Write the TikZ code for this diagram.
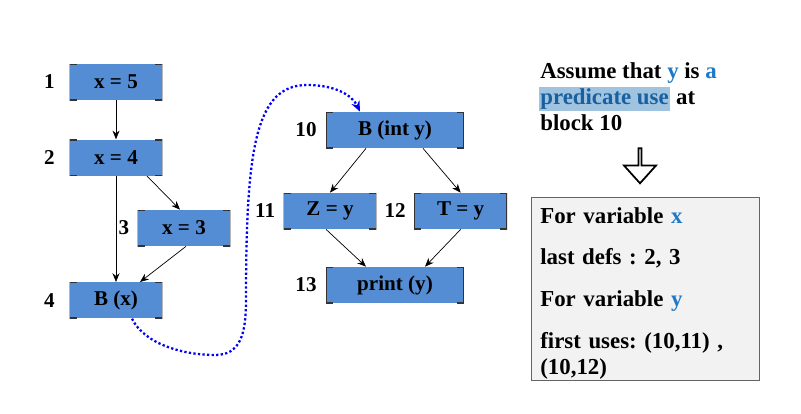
\documentclass[tikz,border=0pt]{standalone}
\usepackage{fontspec}
\setmainfont{Liberation Serif}
\usetikzlibrary{arrows.meta,positioning,shapes.arrows}
\definecolor{cfgblue}{RGB}{84,141,212}
\definecolor{hlblue}{RGB}{160,196,224}
\definecolor{txtblue}{RGB}{30,120,200}
\definecolor{notegray}{RGB}{242,242,242}
\definecolor{edgegray}{RGB}{100,100,100}
\newcommand{\hlt}[1]{{\setlength{\fboxsep}{1pt}\colorbox{hlblue}{#1}}}
\frenchspacing

\begin{document}
\begin{tikzpicture}[x=0.02cm, y=-0.02cm,
		block/.style={rectangle, fill=cfgblue, minimum width=1.86cm, minimum height=0.72cm, inner sep=0pt, font=\fontsize{12}{14}\selectfont\bfseries,
			path picture={
				\draw[black!80, line width=1pt] ([xshift=4pt]path picture bounding box.north west) -| (path picture bounding box.south west) -- ++(4pt,0);
				\draw[black!80, line width=1pt] ([xshift=-4pt]path picture bounding box.north east) -| (path picture bounding box.south east) -- ++(-4pt,0);
			}},
		wideblock/.style={block, minimum width=2.76cm},
		num/.style={inner sep=1pt, font=\fontsize{12}{14}\selectfont\bfseries},
		arrow/.style={-{Stealth[length=5pt,width=4pt]}, thin, black},
		defuse/.style={-{Stealth[length=6pt,width=5pt]}, blue, line width=1.3pt, dash pattern=on 1.3pt off 1.3pt},
		note/.style={font=\fontsize{13}{14.7}\selectfont\bfseries, align=left, inner sep=0pt}
	]
	\useasboundingbox (0,0) rectangle (801,413);

	% left flow graph
	\node[block] (n1) at (116,82) {x = 5};
	\node[block, below=0.78cm of n1] (n2) {x = 4};
	\node[block] (n3) at (184,228) {x = 3};
	\node[block, below=2.12cm of n2] (n4) {B (x)};
	\node[num, left=0.25cm of n1] (l1) {1};
	\node[num, left=0.25cm of n2] (l2) {2};
	\node[num, left=0.12cm of n3] (l3) {3};
	\node[num, left=0.25cm of n4] (l4) {4};

	\draw[arrow] (n1) -- (n2);
	\draw[arrow] (n2) -- (n4);
	\draw[arrow] ([xshift=0.62cm]n2.south) -- ([xshift=-0.08cm]n3.north);
	\draw[arrow] ([xshift=0.04cm]n3.south) -- ([xshift=0.48cm]n4.north);

	% right flow graph
	\node[wideblock] (n10) at (395,130) {B (int y)};
	\node[block] (n11) at (330,211) {Z = y};
	\node[block, right=0.74cm of n11] (n12) {T = y};
	\node[wideblock] (n13) at (395,285) {print (y)};
	\node[num, left=0.14cm of n10] (l10) {10};
	\node[num, left=0.12cm of n11] (l11) {11};
	\node[num, left=0.12cm of n12] (l12) {12};
	\node[num, left=0.14cm of n13] (l13) {13};

	\draw[arrow] ([xshift=-0.58cm]n10.south) -- (n11.north);
	\draw[arrow] ([xshift=0.56cm]n10.south) -- (n12.north);
	\draw[arrow] ([xshift=-0.08cm]n11.south) -- ([xshift=-0.58cm]n13.north);
	\draw[arrow] (n12.south) -- ([xshift=0.6cm]n13.north);

	% def-use link
	\draw[defuse] ([xshift=0.32cm]n4.south) .. controls (145,345) and (185,355) .. (215,355)
		.. controls (240,355) and (246,335) .. (246,300)
		.. controls (246,150) and (255,85) .. (307,85)
		.. controls (335,85) and (352,95) .. ([xshift=-0.7cm]n10.north);

	% remarks
	\node[note, anchor=north west] (assume) at (540,62.5) {Assume that \textcolor{txtblue}{y} is \textcolor{txtblue}{a}\\
		\hspace{-1pt}\hlt{\textcolor{txtblue!80!black}{predicate use}} at\\
		block 10};
	\node[single arrow, draw=black, line width=1pt, fill=white, rotate=-90, minimum width=0.64cm, minimum height=0.7cm,
		single arrow head extend=0.18cm, single arrow tip angle=84, inner sep=0pt] (down) at (640,165) {};
	\node[note, anchor=north west, fill=notegray, draw=edgegray, thin, text width=4.2cm, minimum height=3.66cm, inner xsep=0.18cm] (defs) at (531,197) {%
		\rule{0pt}{14pt}For variable \textcolor{txtblue}{x}\\[9pt]
		last defs : 2, 3\\[9pt]
		For variable \textcolor{txtblue}{y}\\[9pt]
		first uses: (10,11) ,\\
		(10,12)};
\end{tikzpicture}
\end{document}
